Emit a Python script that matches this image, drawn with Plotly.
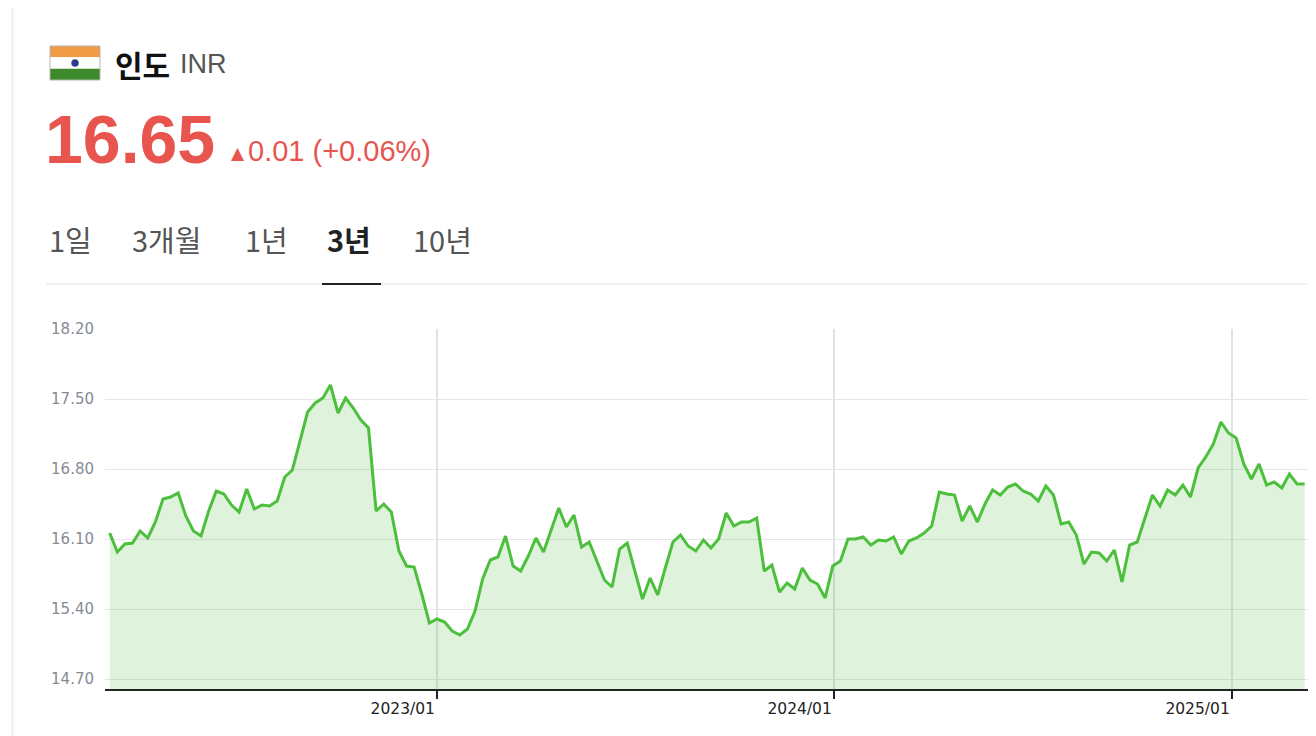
import pandas as pd
import plotly.graph_objects as go

# ---- data ----
start_date = "2022-03-06"          # weekly observations
rate_values = [
    16.16, 15.97, 16.05, 16.06, 16.18, 16.11, 16.27, 16.50, 16.52, 16.56,
    16.33, 16.18, 16.13, 16.38, 16.58, 16.55, 16.44, 16.37, 16.60, 16.40,
    16.44, 16.43, 16.48, 16.72, 16.79, 17.08, 17.37, 17.46, 17.51, 17.64,
    17.36, 17.51, 17.41, 17.29, 17.21, 16.38, 16.45, 16.37, 15.98,
    15.83, 15.82, 15.55, 15.26, 15.30, 15.27, 15.18, 15.14, 15.20, 15.38,
    15.70, 15.89, 15.92, 16.13, 15.83, 15.78, 15.93, 16.11, 15.97,
    16.19, 16.41, 16.22, 16.34, 16.02, 16.07, 15.88, 15.69, 15.62, 16.00,
    16.06, 15.78, 15.50, 15.71, 15.54, 15.81, 16.07, 16.14, 16.03,
    15.98, 16.09, 16.01, 16.10, 16.36, 16.23, 16.27, 16.27, 16.31, 15.78,
    15.84, 15.57, 15.66, 15.60, 15.81, 15.69, 15.65, 15.51, 15.83,
    15.88, 16.10, 16.10, 16.12, 16.04, 16.09, 16.08, 16.12, 15.95, 16.08,
    16.11, 16.16, 16.23, 16.57, 16.55, 16.54, 16.28, 16.43, 16.27,
    16.45, 16.59, 16.54, 16.62, 16.65, 16.58, 16.55, 16.48, 16.63, 16.54,
    16.25, 16.27, 16.14, 15.85, 15.97, 15.96, 15.88, 15.99, 15.67,
    16.04, 16.07, 16.30, 16.54, 16.43, 16.59, 16.54, 16.64, 16.52, 16.81,
    16.92, 17.05, 17.27, 17.16, 17.11, 16.85, 16.70, 16.85, 16.64, 16.67,
    16.61, 16.75, 16.65, 16.65,
]
y_ticks = [14.70, 15.40, 16.10, 16.80, 17.50, 18.20]
x_tick_dates = ["2023-01-01", "2024-01-01", "2025-01-01"]
x_tick_labels = ["2023/01", "2024/01", "2025/01"]
tab_labels = ["1일", "3개월", "1년", "3년", "10년"]
selected_tab = "3년"
current_value = "16.65"
change_text = "0.01 (+0.06%)"

dates = pd.date_range(start_date, periods=len(rate_values), freq="7D")

# ---- layout geometry ----
# the page body has an 8px margin, so the figure is drawn 8px in from the
# window's top-left corner; positions below are given in window pixels.
OFF = 8
W, H = 1316 - OFF, 736 - OFF
PX_L, PX_R, PX_T, PX_B = 105, 1309, 329, 689          # plot area (window px)
PW, PH = PX_R - PX_L, PX_B - PX_T


def fx(px):
    return (px - PX_L) / PW


def fy(py):
    return (PX_B - py) / PH


fig = go.Figure()
fig.add_trace(go.Scatter(
    x=dates, y=rate_values, mode="lines",
    line=dict(color="#4cbf3c", width=3),
    fill="tozeroy", fillcolor="rgba(76,191,60,0.18)",
    hoverinfo="skip", showlegend=False,
))

LAT = "Liberation Sans, Noto Sans CJK KR, sans-serif"
KR = "Noto Sans CJK KR, Liberation Sans, sans-serif"

annotations = []


def txt(text, px, py, size, color, family=LAT, anchor="left"):
    annotations.append(dict(
        text=text, x=fx(px), y=fy(py), xref="paper", yref="paper",
        xanchor=anchor, yanchor="middle", showarrow=False,
        font=dict(size=size, color=color, family=family),
    ))


txt("<b>인도</b>", 113, 64, 30, "#111111", KR)
txt("INR", 178, 64, 27, "#555555")
txt("<b>" + current_value + "</b>", 43, 139, 68, "#e8554f")
txt("▲", 229, 153, 17, "#e8554f", "DejaVu Sans")
txt(change_text, 246, 151, 29, "#e8554f")

tab_x = [47, 130, 243, 325, 411]
for lab, x0 in zip(tab_labels, tab_x):
    if lab == selected_tab:
        txt("<b>" + lab + "</b>", x0, 239, 29, "#222222", KR)
    else:
        txt(lab, x0, 239, 29, "#555555", KR)

shapes = []


def rect(x0, y0, x1, y1, fill, line=None):
    shapes.append(dict(type="rect", xref="paper", yref="paper",
                       x0=fx(x0), x1=fx(x1), y0=fy(y1), y1=fy(y0),
                       fillcolor=fill, line=dict(width=0 if line is None else 1,
                                                 color=line or fill), layer="above"))


def hline(x0, x1, y, color, width):
    shapes.append(dict(type="line", xref="paper", yref="paper",
                       x0=fx(x0), x1=fx(x1), y0=fy(y), y1=fy(y),
                       line=dict(color=color, width=width), layer="above"))


# flag
rect(50, 46, 100, 57.3, "#f29b46")
rect(50, 57.3, 100, 68.7, "#ffffff")
rect(50, 68.7, 100, 80, "#3d8a2b")
rect(50, 46, 100, 80, "rgba(0,0,0,0)", "#b5b5b5")
shapes.append(dict(type="circle", xref="paper", yref="paper",
                   x0=fx(71.5), x1=fx(78.5), y0=fy(66.5), y1=fy(59.5),
                   fillcolor="#2b3a8c", line=dict(color="#2b3a8c", width=0.5),
                   layer="above"))

# page decorations
shapes.append(dict(type="line", xref="paper", yref="paper",
                   x0=fx(12.5), x1=fx(12.5), y0=fy(OFF), y1=fy(736),
                   line=dict(color="#eeeeee", width=2), layer="above"))
hline(46, 1316, 284, "#eeeeee", 1.5)
hline(322, 381, 284, "#222222", 2)

fig.update_layout(
    width=W, height=H,
    margin=dict(l=PX_L - OFF, r=1316 - PX_R, t=PX_T - OFF, b=736 - PX_B, pad=0),
    paper_bgcolor="white", plot_bgcolor="white",
    annotations=annotations, shapes=shapes,
    xaxis=dict(
        type="date",
        range=["2022-03-01 16:00", "2025-03-13"],
        tickvals=x_tick_dates, ticktext=x_tick_labels,
        ticklabelposition="outside left",
        ticks="outside", ticklen=8, tickwidth=2, tickcolor="#222222",
        ticklabelstandoff=4,
        showline=True, linecolor="#222222", linewidth=2,
        showgrid=True, gridcolor="#dfe2e6", gridwidth=1.5,
        zeroline=False,
        tickfont=dict(family="DejaVu Sans", size=15.5, color="#222222"),
        fixedrange=True,
    ),
    yaxis=dict(
        range=[14.6, 18.2],
        tickvals=y_ticks, ticktext=["%.2f" % v for v in y_ticks],
        showgrid=True, gridcolor="#e6e6e6", gridwidth=1,
        zeroline=False, showline=False, ticks="",
        ticklabelstandoff=10,
        tickfont=dict(family="DejaVu Sans", size=15, color="#868b95"),
        fixedrange=True,
    ),
)

fig.write_html("out.html")
